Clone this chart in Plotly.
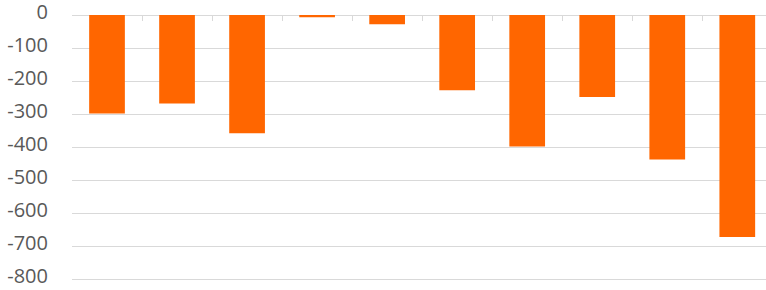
import plotly.graph_objects as go

categories = list(range(10))
values = [-298, -268, -358, -7, -28, -228, -398, -248, -437, -672]
y_ticks = [0, -100, -200, -300, -400, -500, -600, -700, -800]

fig = go.Figure()
fig.add_trace(go.Bar(x=categories, y=values, marker_color="#FF6600",
                     marker_line_width=0, width=0.51))

fig.update_layout(
    width=766, height=290,
    margin=dict(l=72, r=0, t=15, b=9),
    plot_bgcolor="white", paper_bgcolor="white",
    showlegend=False, bargap=0.49,
    font=dict(family="Open Sans", color="#595959", size=20),
)
fig.update_xaxes(
    range=[-0.5, 9.41], side="top", showgrid=False, automargin=False,
    tickvals=[c - 0.5 for c in categories] + [9.5], ticktext=[""] * 11,
    ticks="inside", ticklen=6, tickcolor="#d9d9d9", tickwidth=1,
    showline=False, zeroline=False, fixedrange=True,
)
fig.update_yaxes(
    range=[-805, 0], tickvals=y_ticks, ticktext=[str(v) for v in y_ticks],
    showgrid=True, gridcolor="#d9d9d9", gridwidth=1, automargin=False,
    zeroline=True, zerolinecolor="#d9d9d9", zerolinewidth=1,
    ticks="", ticklabelstandoff=23, ticklabeloverflow="allow",
    ticklabelshift=-3,
    tickfont=dict(size=20, color="#595959"),
)
fig.write_html("out.html", config={"displayModeBar": False},
               post_script="document.body.style.margin='0';document.body.style.overflow='hidden';")
